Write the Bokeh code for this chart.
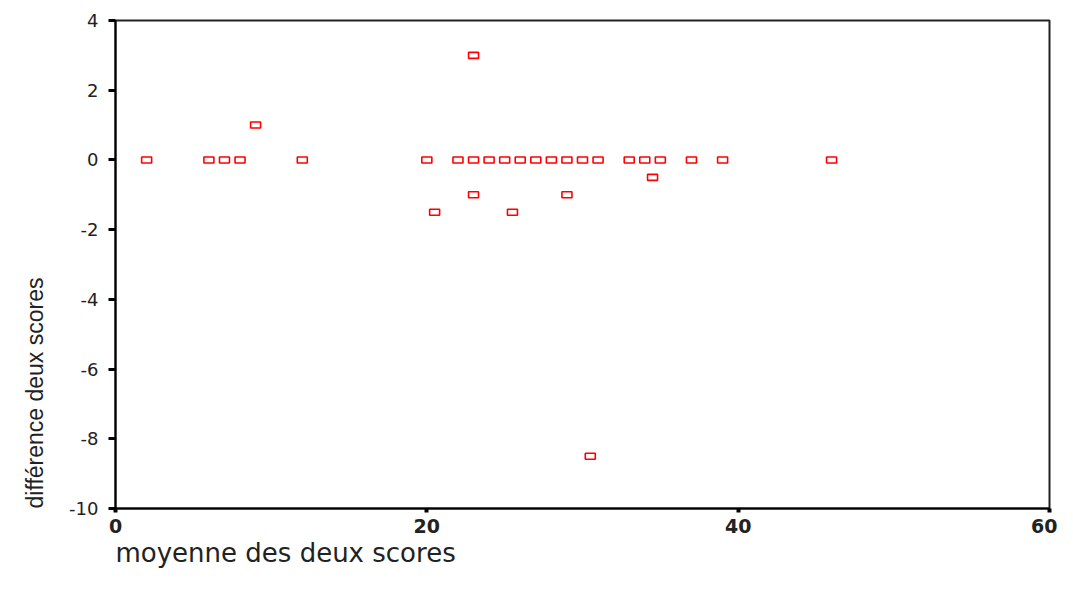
from bokeh.plotting import figure
from bokeh.models import Range1d, FixedTicker, Title, PrintfTickFormatter
from bokeh.embed import file_html
from bokeh.resources import INLINE

# Data
moyenne = [2, 6, 7, 8, 12, 20, 22, 23, 24, 25, 26, 27, 28, 29, 30, 31, 33, 34, 35, 37, 39, 46,
           9, 23, 23, 20.5, 25.5, 29, 34.5, 30.5]
difference = [0, 0, 0, 0, 0, 0, 0, 0, 0, 0, 0, 0, 0, 0, 0, 0, 0, 0, 0, 0, 0, 0,
              1, 3, -1, -1.5, -1.5, -1, -0.5, -8.5]

x_ticks = [0, 20, 40, 60]
y_ticks = [-10, -8, -6, -4, -2, 0, 2, 4]
x_title = "moyenne des deux scores"
y_title = "différence deux scores"

p = figure(width=1057, height=575, output_backend="svg", toolbar_location=None,
           x_range=Range1d(0, 60), y_range=Range1d(-10, 4),
           min_border_left=114, min_border_right=8, min_border_top=20, min_border_bottom=67)

p.rect(x=moyenne, y=difference, width=10, height=6, width_units="screen", height_units="screen",
       fill_color="white", line_color="#ff0000", line_width=1.6)

p.grid.visible = False
p.outline_line_color = "#222222"
p.outline_line_width = 2
p.background_fill_color = "white"
p.border_fill_color = "white"

# axes
p.xaxis.ticker = FixedTicker(ticks=x_ticks)
p.yaxis.ticker = FixedTicker(ticks=y_ticks)
p.xaxis.formatter = PrintfTickFormatter(format="%d")
p.yaxis.formatter = PrintfTickFormatter(format="%d")
for ax in (p.xaxis[0], p.yaxis[0]):
    ax.axis_line_color = "black"
    ax.axis_line_width = 2
    ax.major_tick_line_color = "black"
    ax.minor_tick_line_color = None
    ax.major_tick_in = 0
    ax.major_label_text_color = "#222222"

p.yaxis.major_tick_out = 7
p.yaxis.major_tick_line_width = 3
p.yaxis.major_label_text_font = "DejaVu Sans"
p.yaxis.major_label_text_font_size = "18px"
p.yaxis.major_label_standoff = 10

p.xaxis.major_tick_out = 4
p.xaxis.major_tick_line_width = 4
p.xaxis.major_label_text_font = "DejaVu Sans"
p.xaxis.major_label_text_font_style = "bold"
p.xaxis.major_label_text_font_size = "19px"
p.xaxis.major_label_standoff = 6

# axis titles, aligned to the start like the reference
xt = Title(text=x_title, align="left", text_font="DejaVu Sans",
           text_font_size="26px", text_font_style="normal", text_color="#222222", standoff=0)
p.add_layout(xt, "below")
yt = Title(text=y_title, align="left", text_font="Liberation Sans",
           text_font_size="23px", text_font_style="normal", text_color="#222222", standoff=38)
p.add_layout(yt, "left")

open("out.html", "w").write(file_html(p, INLINE))
